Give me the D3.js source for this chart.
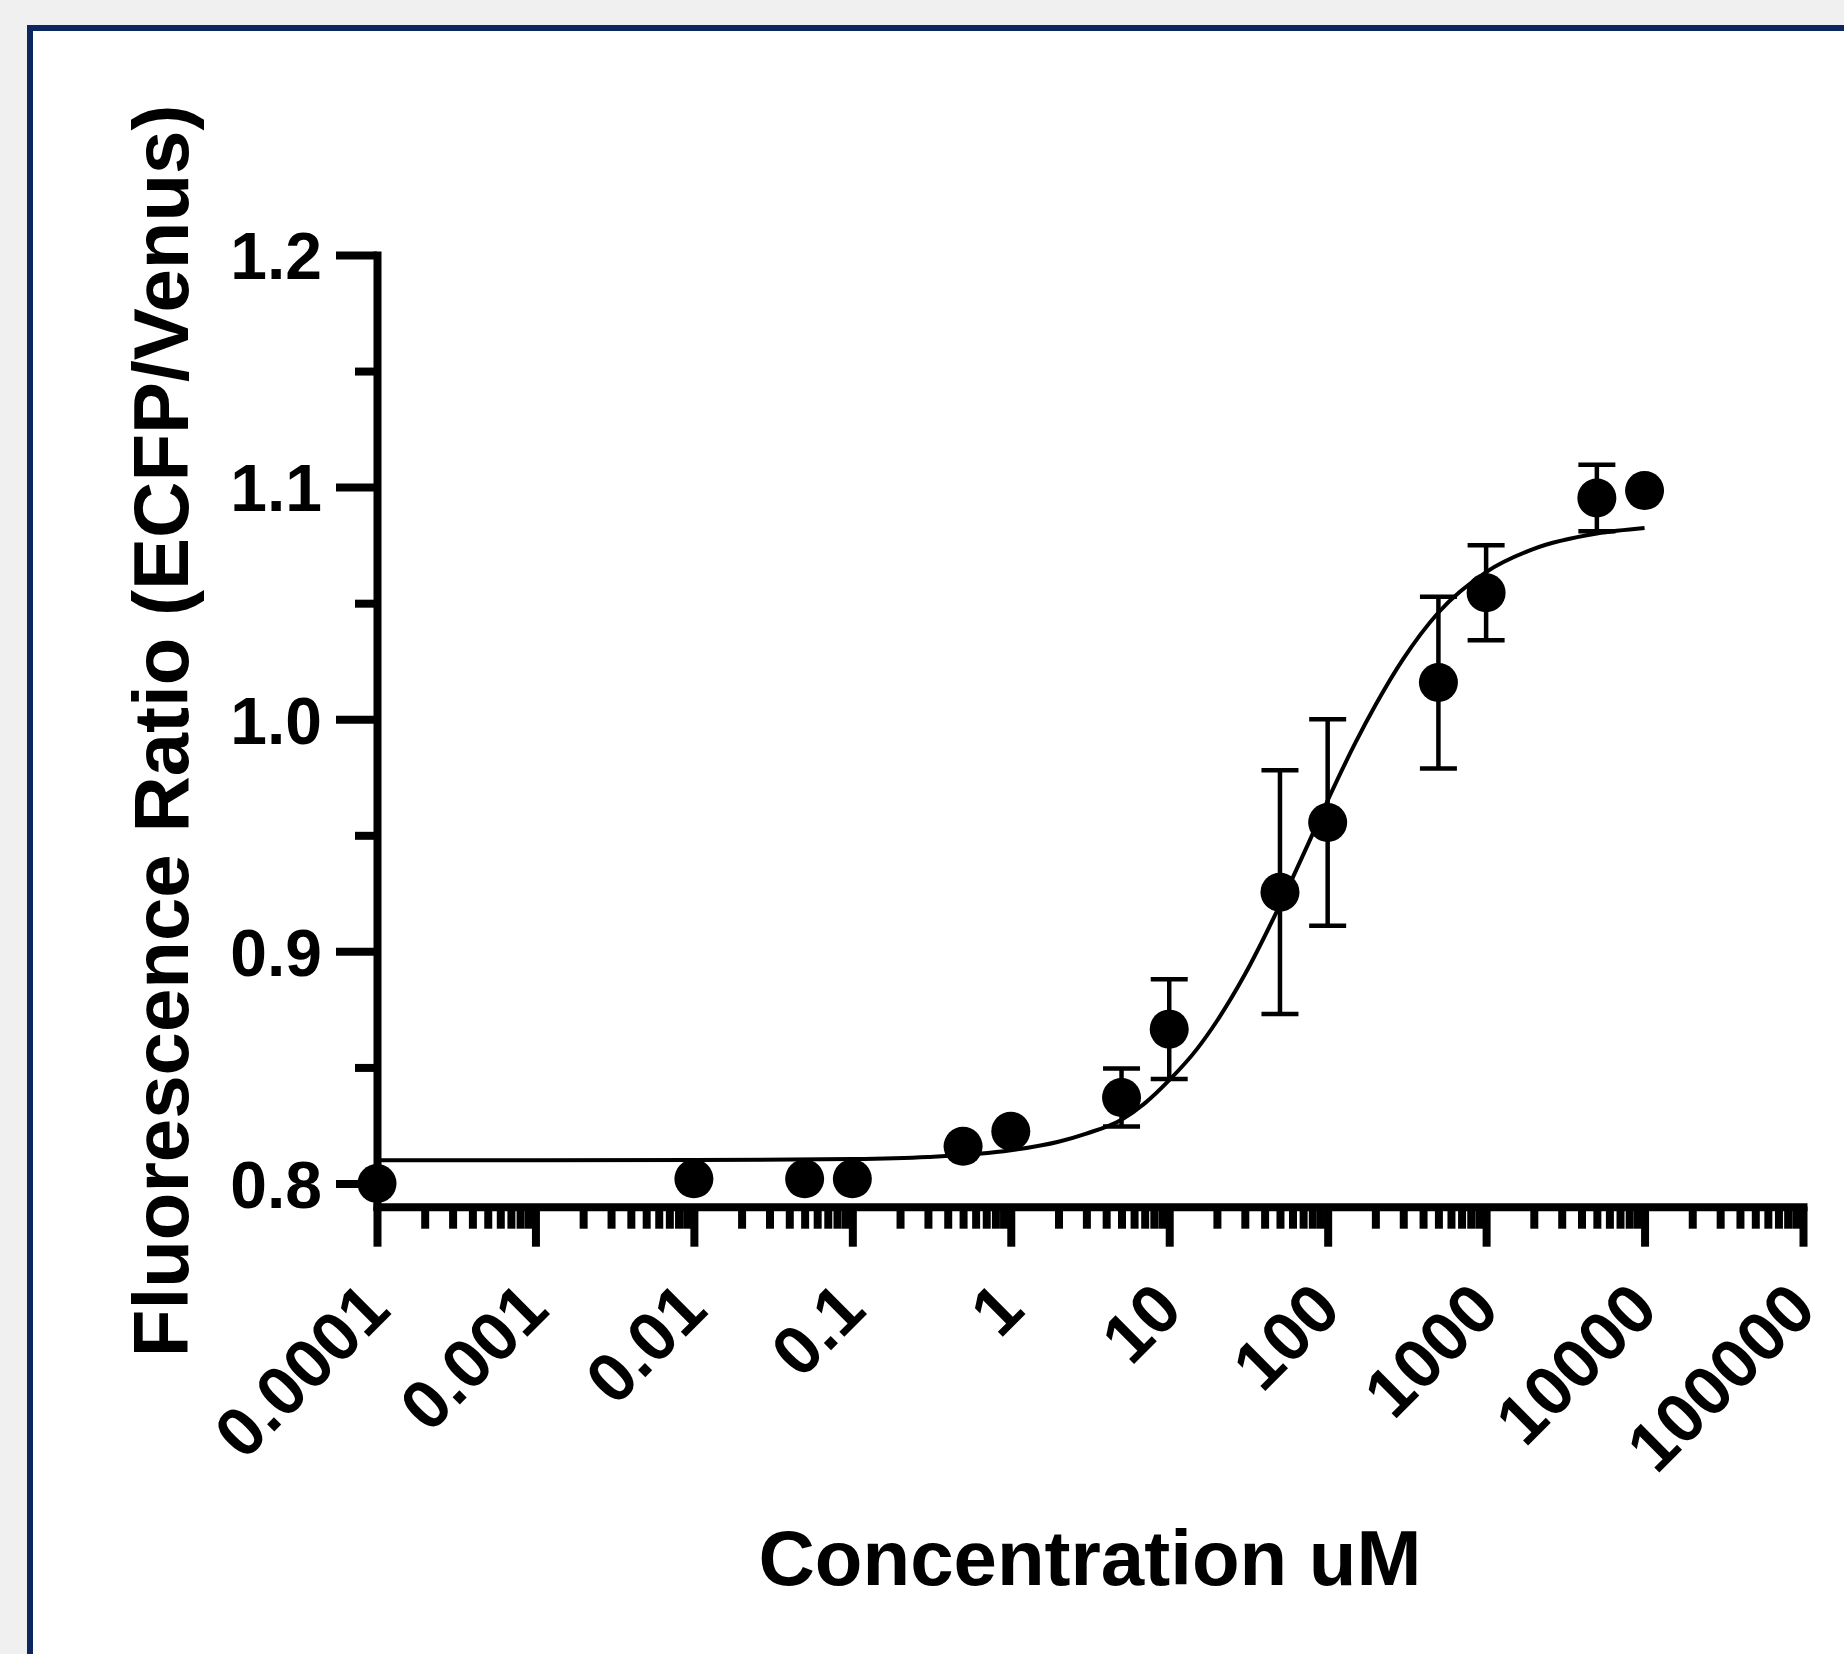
<!DOCTYPE html>
<html>
<head>
<meta charset="utf-8">
<script src="https://cdn.jsdelivr.net/npm/d3@7"></script>
<style>
  html, body { margin: 0; padding: 0; background: #f0f0f0; }
  svg { display: block; }
  text { font-family: "Liberation Sans", Arial, sans-serif; font-weight: bold; fill: #000; }
</style>
</head>
<body>
<svg id="chart" width="1844" height="1654"></svg>
<script>
// ---- data ----
const concentrations = [0.0001, 0.01, 0.05, 0.1, 0.5, 1, 5, 10, 50, 100, 500, 1000, 5000, 10000];
const ratios         = [0.800, 0.802, 0.802, 0.802, 0.816, 0.8225, 0.8370, 0.8665, 0.9255, 0.9555, 1.0158, 1.0545, 1.0953, 1.0985];
const errors         = [0, 0, 0, 0, 0, 0, 0.0125, 0.0215, 0.0525, 0.0445, 0.037, 0.0205, 0.0143, 0];

// fitted curve
const curveX = [0.0001, 0.001, 0.01, 0.1, 0.3, 1, 2, 3, 5, 7, 10, 15, 20, 30, 50, 75, 100, 150, 200, 300, 500, 1000, 2000, 5000, 10000];
const curveY = [0.810, 0.810, 0.8101, 0.8105, 0.8114, 0.8143, 0.8180, 0.8215, 0.8275, 0.8345, 0.8445, 0.858, 0.870, 0.890, 0.920, 0.946, 0.965, 0.990, 1.006, 1.026, 1.046, 1.0634, 1.0734, 1.080, 1.0824];

const xTickValues = [0.0001, 0.001, 0.01, 0.1, 1, 10, 100, 1000, 10000, 100000];
const xTickLabels = ["0.0001", "0.001", "0.01", "0.1", "1", "10", "100", "1000", "10000", "100000"];
const yTickValues = [0.8, 0.9, 1.0, 1.1, 1.2];
const yTickLabels = ["0.8", "0.9", "1.0", "1.1", "1.2"];
const yMinorValues = [0.85, 0.95, 1.05, 1.15];
const xTitle = "Concentration uM";
const yTitle = "Fluorescence Ratio (ECFP/Venus)";

// ---- layout ----
const svg = d3.select("#chart");
const navy = "#0c2660";

// page frame (white panel with navy border)
svg.append("rect").attr("x", 30).attr("y", 28).attr("width", 1900).attr("height", 1700)
  .attr("fill", "#fff").attr("stroke", navy).attr("stroke-width", 6);

const x = d3.scaleLog().domain([1e-4, 1e5]).range([377, 1803]);
const y = d3.scaleLinear().domain([0.79, 1.2]).range([1206.7, 255]);
const axisY = y(0.79);
const axisX = x(1e-4);

// minor x ticks (2..9 of each decade)
const xMinor = [];
for (let e = -4; e < 5; e++) for (let m = 2; m <= 9; m++) xMinor.push(m * Math.pow(10, e));

const axisW = 8;
const tickW = 8;

const gxMinor = svg.append("g").attr("transform", `translate(0,${axisY})`)
  .call(d3.axisBottom(x).tickValues(xMinor).tickSize(22).tickSizeOuter(0).tickFormat(""));
gxMinor.select(".domain").remove();
gxMinor.selectAll("line").attr("stroke", "#000").attr("stroke-width", tickW);

const gx = svg.append("g").attr("transform", `translate(0,${axisY})`)
  .call(d3.axisBottom(x).tickValues(xTickValues).tickSize(40).tickSizeOuter(0).tickFormat(""));
gx.select(".domain").attr("stroke", "#000").attr("stroke-width", axisW).attr("stroke-linecap", "square");
gx.selectAll("line").attr("stroke", "#000").attr("stroke-width", tickW);

// rotated x tick labels
svg.append("g").selectAll("text").data(xTickValues).join("text")
  .attr("transform", (d) => `translate(${x(d) + 16},${axisY + 106}) rotate(-45)`)
  .attr("text-anchor", "end")
  .attr("font-size", 69)
  .text((d, i) => xTickLabels[i]);

const gyMinor = svg.append("g").attr("transform", `translate(${axisX},0)`)
  .call(d3.axisLeft(y).tickValues(yMinorValues).tickSize(22).tickSizeOuter(0).tickFormat(""));
gyMinor.select(".domain").remove();
gyMinor.selectAll("line").attr("stroke", "#000").attr("stroke-width", tickW);

const gy = svg.append("g").attr("transform", `translate(${axisX},0)`)
  .call(d3.axisLeft(y).tickValues(yTickValues).tickSize(41).tickSizeOuter(0).tickPadding(14)
    .tickFormat((d, i) => yTickLabels[i]));
gy.select(".domain").attr("stroke", "#000").attr("stroke-width", axisW).attr("stroke-linecap", "square");
gy.selectAll("line").attr("stroke", "#000").attr("stroke-width", tickW);
gy.selectAll("text").attr("font-size", 66).attr("font-family", '"Liberation Sans", Arial, sans-serif')
  .attr("font-weight", "bold").attr("fill", "#000").attr("dy", "0.36em");

// fitted curve
const curvePts = curveX.map((c, i) => [c, curveY[i]]);
svg.append("path").datum(curvePts)
  .attr("fill", "none").attr("stroke", "#000").attr("stroke-width", 4)
  .attr("d", d3.line().x(d => x(d[0])).y(d => y(d[1])).curve(d3.curveMonotoneX));

// error bars
const pts = concentrations.map((c, i) => ({ c, v: ratios[i], e: errors[i] }));
const eb = svg.append("g").selectAll("g").data(pts.filter(d => d.e > 0)).join("g")
  .attr("stroke", "#000").attr("stroke-width", 4.5);
eb.append("line").attr("x1", d => x(d.c)).attr("x2", d => x(d.c))
  .attr("y1", d => y(d.v + d.e)).attr("y2", d => y(d.v - d.e));
eb.append("line").attr("x1", d => x(d.c) - 18.5).attr("x2", d => x(d.c) + 18.5)
  .attr("y1", d => y(d.v + d.e)).attr("y2", d => y(d.v + d.e));
eb.append("line").attr("x1", d => x(d.c) - 18.5).attr("x2", d => x(d.c) + 18.5)
  .attr("y1", d => y(d.v - d.e)).attr("y2", d => y(d.v - d.e));

// points
svg.append("g").selectAll("circle").data(pts).join("circle")
  .attr("cx", d => x(d.c)).attr("cy", d => y(d.v)).attr("r", 19.5).attr("fill", "#000");

// axis titles
svg.append("text").attr("x", (x.range()[0] + x.range()[1]) / 2).attr("y", 1585)
  .attr("text-anchor", "middle").attr("font-size", 78).text(xTitle);
svg.append("text").attr("transform", `translate(188,${(y.range()[0] + y.range()[1]) / 2}) rotate(-90)`)
  .attr("text-anchor", "middle").attr("font-size", 78).text(yTitle);
</script>
</body>
</html>
